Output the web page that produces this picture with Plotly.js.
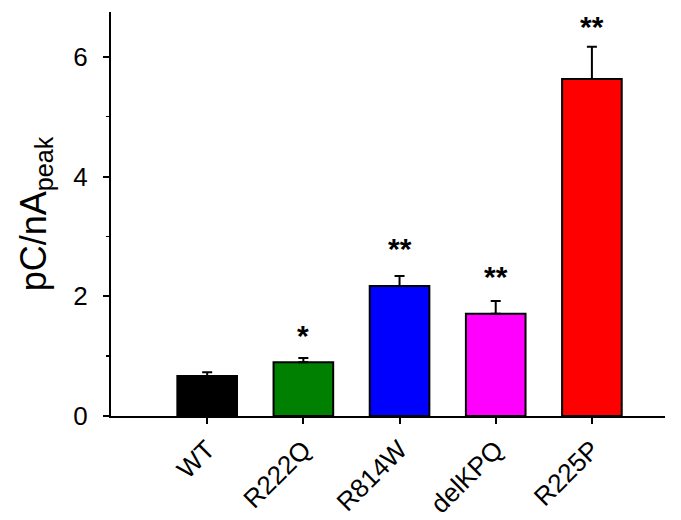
<!DOCTYPE html>
<html>
<head>
<meta charset="utf-8">
<script src="https://cdn.plot.ly/plotly-3.0.1.min.js"></script>
<style>html,body{margin:0;padding:0;background:#fff;}#chart{width:681px;height:520px;}</style>
</head>
<body>
<div id="chart"></div>
<script>
const categories = ['WT', 'R222Q', 'R814W', 'delKPQ', 'R225P'];
const values = [0.67, 0.90, 2.17, 1.71, 5.63];
const errors = [0.06, 0.07, 0.17, 0.21, 0.54];
const barColors = ['#000000', '#008000', '#0000FF', '#FF00FF', '#FF0000'];
const sigLabels = ['', '*', '**', '**', '**'];
const sigY = [null, 1.42, 2.87, 2.39, 6.58];
const yTicks = [0, 2, 4, 6];

const font = 'Liberation Sans, Arial, sans-serif';

const trace = {
  type: 'bar',
  x: categories,
  y: values,
  width: 0.62,
  marker: {color: barColors, line: {color: '#000', width: 2}},
  error_y: {
    type: 'data', symmetric: false, array: errors,
    arrayminus: errors.map(() => 0),
    color: '#000', thickness: 2, width: 5
  },
  hoverinfo: 'none'
};

const annotations = [];
categories.forEach((c, i) => {
  if (sigLabels[i]) {
    annotations.push({
      x: c, y: sigY[i], xref: 'x', yref: 'y', text: '<b>' + sigLabels[i] + '</b>',
      showarrow: false, yanchor: 'middle', xanchor: 'center', yshift: -4,
      font: {family: font, size: 30, color: '#000'}
    });
  }
});

const layout = {
  width: 681, height: 520,
  margin: {l: 111, r: 16, t: 12, b: 104},
  paper_bgcolor: '#fff', plot_bgcolor: '#fff',
  showlegend: false,
  font: {family: font, color: '#000'},
  xaxis: {
    type: 'category', range: [-1.0, 4.76],
    showline: true, linecolor: '#000', linewidth: 2,
    ticks: 'outside', ticklen: 6, tickwidth: 2, tickcolor: '#000',
    tickangle: -45, tickfont: {family: font, size: 26, color: '#000'},
    showgrid: false, zeroline: false
  },
  yaxis: {
    range: [0, 6.75],
    tickvals: yTicks, ticktext: yTicks.map(String),
    showline: true, linecolor: '#000', linewidth: 2,
    ticks: 'outside', ticklen: 6, tickwidth: 2, tickcolor: '#000',
    tickfont: {family: font, size: 26, color: '#000'},
    ticklabelstandoff: 10,
    minor: {ticks: 'outside', ticklen: 3, tickwidth: 1.5, tickcolor: '#000', dtick: 1, tick0: 0, showgrid: false},
    showgrid: false, zeroline: false,
    title: {text: 'pC/nA<sub>peak</sub>', font: {family: font, size: 36, color: '#000'}, standoff: 16}
  },
  annotations: annotations
};

Plotly.newPlot('chart', [trace], layout, {displayModeBar: false, staticPlot: true});
</script>
</body>
</html>
